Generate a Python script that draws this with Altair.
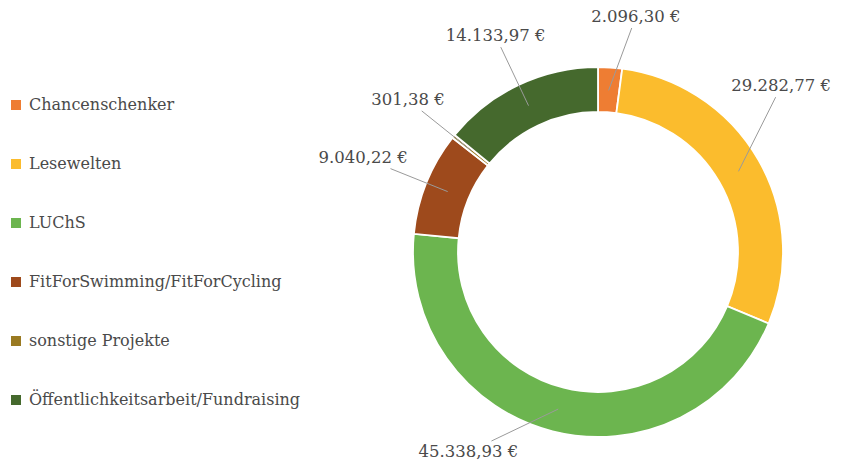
import altair as alt
import numpy as np
import pandas as pd

# ---- data -------------------------------------------------------------
categories = [
    "Chancenschenker",
    "Lesewelten",
    "LUChS",
    "FitForSwimming/FitForCycling",
    "sonstige Projekte",
    "Öffentlichkeitsarbeit/Fundraising",
]
values = [2096.30, 29282.77, 45338.93, 9040.22, 301.38, 14133.97]
colors = ["#EE7D33", "#FBBC2D", "#6CB54F", "#9E4A1C", "#9A7A22", "#45692D"]

# ---- layout -----------------------------------------------------------
W, H = 825, 453
CX, CY = 590, 244
R_OUT, R_IN = 185, 140
R_ANCHOR = 162
GAP = 44
FONT = "DejaVu Serif"
LABEL_PX = 16.5
TEXT_COLOR = "#4a4a4a"


def fmt_eur(v):
    s = f"{v:,.2f}"
    return s.replace(",", "X").replace(".", ",").replace("X", ".") + " €"


def text_width(s, px):
    w = 0.0
    for ch in s:
        if ch.isdigit() or ch == "€":
            w += 0.636
        else:
            w += 0.318
    return w * px


labels = [fmt_eur(v) for v in values]
vals = np.array(values)
total = vals.sum()
start = np.cumsum(vals) - vals
mid = (start + vals / 2) / total * 2 * np.pi
ux, uy = np.sin(mid), -np.cos(mid)

hw = np.array([text_width(s, LABEL_PX) / 2 for s in labels])
hh = 9.0
with np.errstate(divide="ignore"):
    t = np.minimum(hw / np.abs(ux), hh / np.abs(uy))
D = R_OUT + GAP + t
lx = CX + D * ux
ly = CY + D * uy

# slide along the label circle to stay inside the chart
for i in range(len(vals)):
    ymin, ymax = hh, H - hh
    xmin, xmax = hw[i] + 2, W - hw[i] - 2
    if ly[i] < ymin or ly[i] > ymax:
        ny = ymin if ly[i] < ymin else ymax
        dy = ny - CY
        dx = np.sign(ux[i]) * np.sqrt(max(D[i] ** 2 - dy ** 2, 0))
        lx[i], ly[i] = CX + dx, ny
    if lx[i] < xmin or lx[i] > xmax:
        nx = xmin if lx[i] < xmin else xmax
        dx = nx - CX
        dy = np.sign(uy[i]) * np.sqrt(max(D[i] ** 2 - dx ** 2, 0))
        lx[i], ly[i] = nx, CY + dy

ax = CX + R_ANCHOR * ux
ay = CY + R_ANCHOR * uy
vx, vy = ax - lx, ay - ly
with np.errstate(divide="ignore"):
    s = np.minimum((hw + 3) / np.abs(vx), (hh + 2) / np.abs(vy))
ex = lx + s * vx
ey = ly + s * vy

df = pd.DataFrame(
    {
        "category": categories,
        "value": values,
        "order": list(range(len(categories))),
        "label": labels,
        "lx": lx,
        "ly": ly,
        "ax": ax,
        "ay": ay,
        "ex": ex,
        "ey": ey,
    }
)

base = alt.Chart(df)

donut = base.mark_arc(
    outerRadius=R_OUT, innerRadius=R_IN, stroke="white", strokeWidth=1.8
).encode(
    theta=alt.Theta("value:Q", stack=True),
    order=alt.Order("order:Q"),
    x=alt.value(CX),
    y=alt.value(CY),
    color=alt.Color(
        "category:N",
        scale=alt.Scale(domain=categories, range=colors),
        sort=categories,
        legend=alt.Legend(
            title=None,
            orient="none",
            legendX=0,
            legendY=89,
            direction="vertical",
            symbolType="square",
            symbolSize=100,
            symbolStrokeWidth=0,
            labelFont=FONT,
            labelFontSize=16,
            labelColor=TEXT_COLOR,
            labelOffset=5,
            labelLimit=400,
            rowPadding=43,
            padding=0,
        ),
    ),
)

leaders = base.mark_rule(color="#9a9a9a", strokeWidth=1).encode(
    x=alt.X("ex:Q", scale=None, axis=None),
    y=alt.Y("ey:Q", scale=None, axis=None),
    x2=alt.X2("ax:Q"),
    y2=alt.Y2("ay:Q"),
)

texts = base.mark_text(
    font=FONT, fontSize=LABEL_PX, color=TEXT_COLOR, align="center", baseline="middle"
).encode(
    x=alt.X("lx:Q", scale=None, axis=None),
    y=alt.Y("ly:Q", scale=None, axis=None),
    text="label:N",
)

chart = (
    alt.layer(donut, leaders, texts)
    .properties(
        width=W,
        height=H,
        padding=0,
        autosize=alt.AutoSizeParams(type="none"),
        view=alt.ViewBackground(stroke="transparent", fill="white"),
    )
    .configure_view(stroke="transparent", strokeWidth=0)
    .configure_axis(disable=True)
    .configure(background="white")
)

chart.save("out.html", embed_options={"renderer": "svg", "actions": False})
